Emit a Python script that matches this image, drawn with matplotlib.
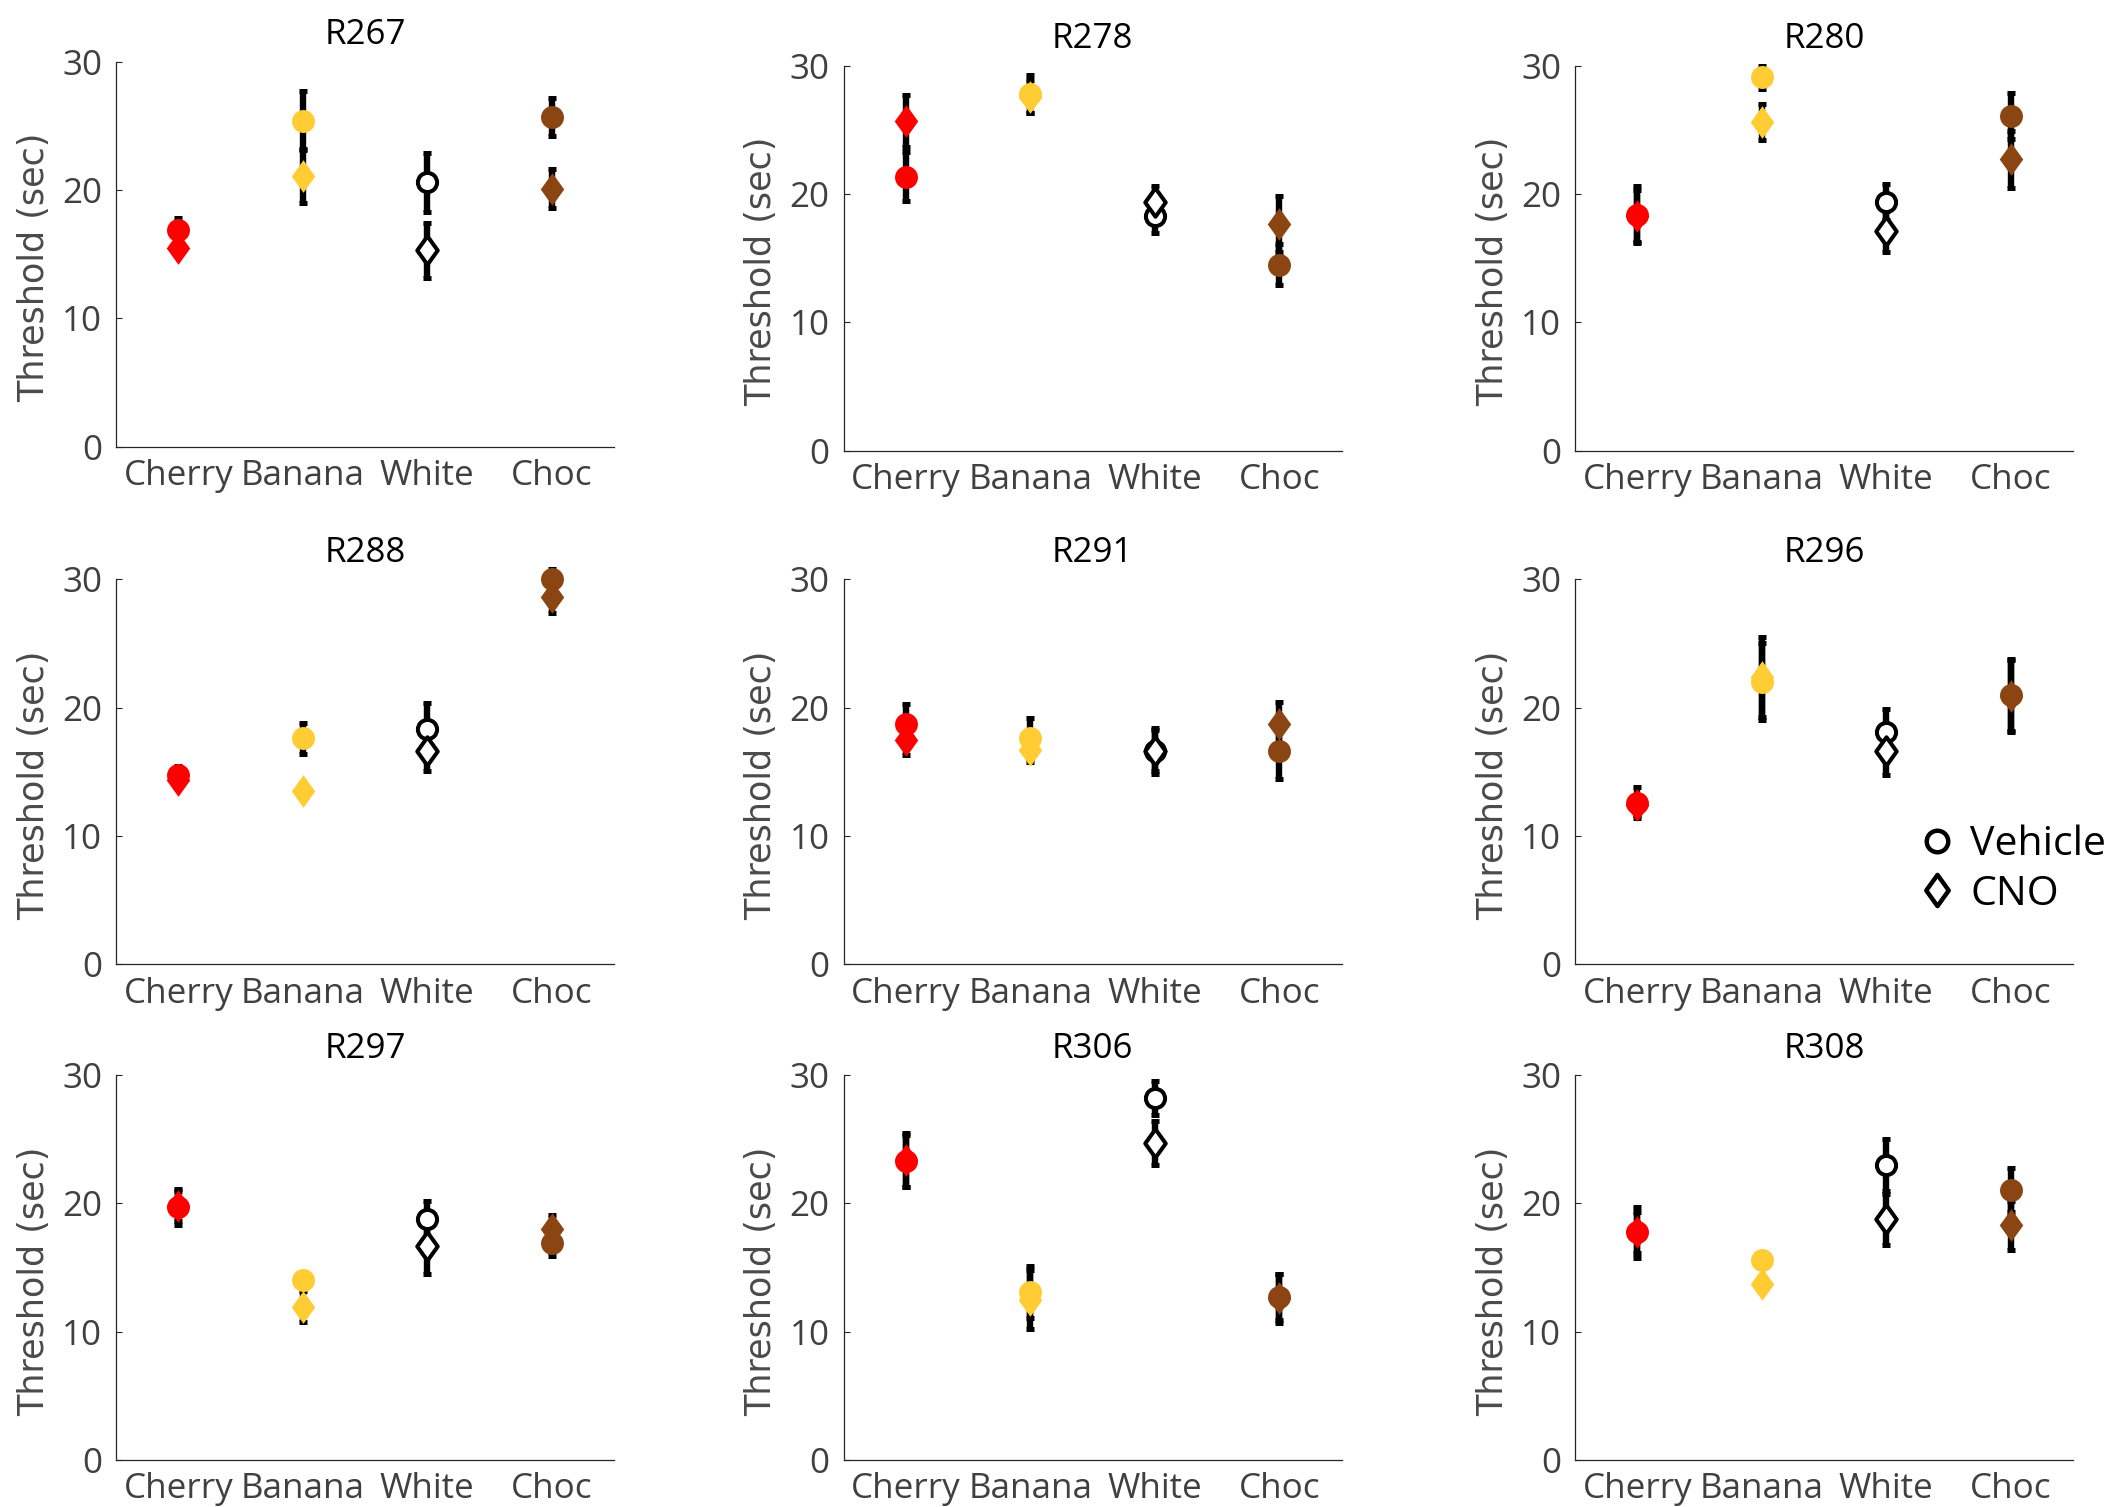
import numpy as np
import matplotlib
matplotlib.use("Agg")
import matplotlib.pyplot as plt
from matplotlib.path import Path
from matplotlib.lines import Line2D

# === Datos ===
ratas = ["R267", "R278", "R280", "R288", "R291", "R296", "R297", "R306", "R308"]
sabores = ["Cherry", "Banana", "White", "Choc"]

# Vehicle (circulos)
veh_media = [
    [16.9, 25.4, 20.6, 25.7],
    [21.35, 27.8, 18.3, 14.5],
    [18.4, 29.1, 19.35, 26.1],
    [14.75, 17.6, 18.35, 30.0],
    [18.7, 17.6, 16.65, 16.6],
    [12.6, 22.0, 18.1, 21.0],
    [19.75, 14.0, 18.75, 16.9],
    [23.3, 13.1, 28.2, 12.7],
    [17.75, 15.6, 23.0, 21.05],
]
veh_sem = [
    [0.9, 2.3, 2.3, 1.5],
    [1.9, 1.5, 1.3, 1.6],
    [2.2, 0.9, 1.4, 1.8],
    [0.7, 1.2, 2.0, 0.8],
    [1.6, 1.6, 1.8, 2.2],
    [1.2, 3.0, 1.8, 2.8],
    [1.4, 0.5, 1.45, 1.0],
    [2.0, 2.0, 1.3, 1.8],
    [1.6, 0.5, 2.0, 1.7],
]

# CNO (diamantes)
cno_media = [
    [15.45, 21.1, 15.3, 20.1],
    [25.7, 27.6, 19.35, 17.65],
    [18.3, 25.6, 17.1, 22.7],
    [14.4, 13.5, 16.65, 28.6],
    [17.5, 16.7, 16.65, 18.75],
    [12.4, 22.4, 16.65, 20.9],
    [19.8, 11.95, 16.7, 18.0],
    [23.35, 12.5, 24.7, 12.6],
    [17.75, 13.7, 18.75, 18.3],
]
cno_sem = [
    [0.5, 2.1, 2.15, 1.5],
    [2.0, 1.3, 1.3, 2.2],
    [2.0, 1.4, 1.6, 2.2],
    [0.5, 0.4, 1.6, 1.2],
    [1.2, 0.9, 1.6, 1.7],
    [0.8, 3.1, 1.9, 2.8],
    [1.2, 1.2, 2.2, 1.1],
    [2.1, 2.3, 1.7, 1.9],
    [2.0, 0.4, 2.0, 1.9],
]

# === Estilo ===
plt.rcParams["font.family"] = ["Open Sans", "DejaVu Sans"]
color_relleno = ["#ff0000", "#ffcc33", "white", "#8b4513"]
color_borde = ["#ff0000", "#ffcc33", "black", "#8b4513"]
gris = "#404040"
fs = 25.2

diamante = Path([(0, 1), (0.72, 0), (0, -1), (-0.72, 0), (0, 1)],
                [Path.MOVETO, Path.LINETO, Path.LINETO, Path.LINETO, Path.CLOSEPOLY])

W, H = 2115, 1507
fig = plt.figure(figsize=(W / 100, H / 100), dpi=100)

izq = [116, 843.5, 1575]
abajo = [[446.7, 450.7, 450.7], [964.3, 964.3, 964.3], [1460, 1460, 1460]]
ancho, alto = 498, 385

x = np.arange(1, 5)
ejes = []
for k, rata in enumerate(ratas):
    fila, col = divmod(k, 3)
    ax = fig.add_axes([izq[col] / W, 1 - abajo[fila][col] / H, ancho / W, alto / H])
    ejes.append(ax)

    for medias, sems in [(veh_media[k], veh_sem[k]), (cno_media[k], cno_sem[k])]:
        ax.errorbar(x, medias, yerr=sems, fmt="none", ecolor="black",
                    elinewidth=4.6, capsize=2.9, capthick=3.6, zorder=2,
                    clip_on=False)

    for i in range(4):
        abierto = color_relleno[i] == "white"
        ax.plot(x[i], veh_media[k][i], marker="o", linestyle="none",
                markersize=13.8 if abierto else 16.5,
                markerfacecolor=color_relleno[i], markeredgecolor=color_borde[i],
                markeredgewidth=2.9 if abierto else 0, zorder=3, clip_on=False)
        ax.plot(x[i], cno_media[k][i], marker=diamante, linestyle="none",
                markersize=20.5 if abierto else 23.5,
                markerfacecolor=color_relleno[i], markeredgecolor=color_borde[i],
                markeredgewidth=2.9 if abierto else 0, zorder=4, clip_on=False)

    ax.set_xlim(0.5, 4.5)
    ax.set_ylim(0, 30)
    ax.set_xticks(x)
    ax.set_xticklabels(sabores)
    ax.set_yticks([0, 10, 20, 30])
    ax.tick_params(axis="x", length=0, pad=9.0, labelsize=fs, labelcolor=gris)
    ax.tick_params(axis="y", direction="in", length=4.3, width=0.8, pad=10.0,
                   labelsize=fs, labelcolor=gris, color="#262626")
    for lado in ["top", "right"]:
        ax.spines[lado].set_visible(False)
    for lado in ["left", "bottom"]:
        ax.spines[lado].set_color("#262626")
        ax.spines[lado].set_linewidth(0.9)
    ax.set_ylabel("Threshold (sec)", fontsize=fs, color="#4a4a4a",
                  family="DejaVu Sans")
    ax.yaxis.set_label_coords(-0.131, 0.465)
    ax.set_title(rata, fontsize=fs, color="black", pad=12.5)

# === Leyenda ===
manejadores = [
    Line2D([], [], marker="o", linestyle="none", markersize=15.5,
           markerfacecolor="white", markeredgecolor="black", markeredgewidth=3.2),
    Line2D([], [], marker=diamante, linestyle="none", markersize=22.5,
           markerfacecolor="white", markeredgecolor="black", markeredgewidth=3.2),
]
ejes[5].legend(manejadores, ["Vehicle", "CNO"], loc="center left",
               bbox_to_anchor=(0.691, 0.246), frameon=False, fontsize=29.5,
               handlelength=0.85, handletextpad=0.4, labelspacing=0.22,
               borderpad=0, borderaxespad=0)

fig.savefig("out.png", dpi=100)
